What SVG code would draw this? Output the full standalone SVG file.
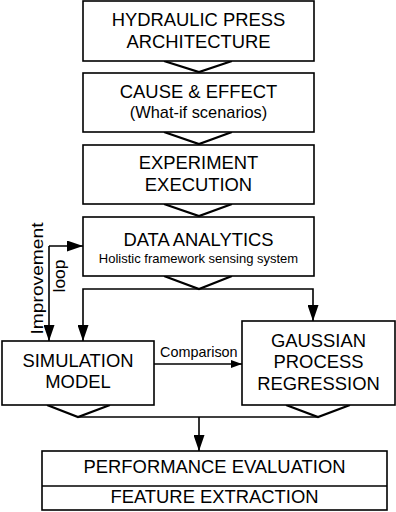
<svg xmlns="http://www.w3.org/2000/svg" width="396" height="512" viewBox="0 0 396 512">
<style>
.box{fill:#fff;stroke:#000;stroke-width:1.6}
.t{font-family:"Liberation Sans",Arial,sans-serif;font-size:18.4px;fill:#000;text-anchor:middle}
.s{font-size:16.4px}
.xs{font-size:13px}
.r{font-size:16px}
.c{font-family:"Liberation Sans",Arial,sans-serif;font-size:14.4px;fill:#000}
.ln{fill:none;stroke:#000;stroke-width:1.6}
.chev{fill:none;stroke:#000;stroke-width:2.2;stroke-linejoin:miter}
</style>
<defs>
<marker id="arr" markerUnits="userSpaceOnUse" markerWidth="16" markerHeight="11" refX="16" refY="5.5" orient="auto"><path d="M0,0 L16,5.5 L0,11 z" fill="#000"/></marker>
<marker id="arrs" markerUnits="userSpaceOnUse" markerWidth="11" markerHeight="8" refX="11" refY="4" orient="auto"><path d="M0,0 L11,4 L0,8 z" fill="#000"/></marker>
</defs>
<g id="connectors">
<polyline class="chev" points="164,61 199,72 232,61"/>
<polyline class="chev" points="164,132 199,144 232,132"/>
<polyline class="chev" points="164,204 199,216 232,204"/>
<polyline class="chev" points="164,276 199,289 232,276"/>
<polyline class="chev" points="47,405 78,417 110,405"/>
<polyline class="chev" points="286,405 318,417 350,405"/>
<path class="ln" d="M199,289 L83,289 L83,341" marker-end="url(#arr)"/>
<path class="ln" d="M199,289 L313,289 L313,321" marker-end="url(#arr)"/>
<path class="ln" d="M49,246 L49,341" marker-end="url(#arr)"/>
<path class="ln" d="M49,246 L83,246" marker-end="url(#arr)"/>
<path class="ln" d="M154,364 L242,364" marker-end="url(#arrs)"/>
<path class="ln" d="M78,417 L318,417"/>
<path class="ln" d="M199,417 L199,451" marker-end="url(#arr)"/>
<text class="c" x="160" y="357">Comparison</text>
<text class="t r" transform="translate(43,278.5) rotate(-90)" textLength="112" lengthAdjust="spacingAndGlyphs">Improvement</text>
<text class="t r" transform="translate(65,276) rotate(-90)" textLength="33" lengthAdjust="spacingAndGlyphs">loop</text>
</g>
<g id="hydraulic">
<rect class="box" x="83" y="1" width="231" height="60"/>
<text class="t" x="198.5" y="26">HYDRAULIC PRESS</text>
<text class="t" x="198.5" y="48">ARCHITECTURE</text>
</g>
<g id="cause">
<rect class="box" x="83" y="73" width="231" height="59"/>
<text class="t" x="198.5" y="98">CAUSE &amp; EFFECT</text>
<text class="t s" x="198.5" y="118">(What-if scenarios)</text>
</g>
<g id="experiment">
<rect class="box" x="83" y="145" width="231" height="59"/>
<text class="t" x="198.5" y="169">EXPERIMENT</text>
<text class="t" x="198.5" y="191">EXECUTION</text>
</g>
<g id="analytics">
<rect class="box" x="83" y="217" width="231" height="59"/>
<text class="t" x="198.5" y="246">DATA ANALYTICS</text>
<text class="t xs" x="198.5" y="263">Holistic framework sensing system</text>
</g>
<g id="simulation">
<rect class="box" x="2" y="341" width="152" height="64"/>
<text class="t" x="78" y="367">SIMULATION</text>
<text class="t" x="78" y="388">MODEL</text>
</g>
<g id="gpr">
<rect class="box" x="242" y="321" width="153" height="84"/>
<text class="t" x="318.5" y="347">GAUSSIAN</text>
<text class="t" x="318.5" y="368">PROCESS</text>
<text class="t" x="318.5" y="390">REGRESSION</text>
</g>
<g id="performance">
<rect class="box" x="42" y="451" width="345" height="59"/>
<line class="ln" x1="42" y1="486" x2="387" y2="486"/>
<text class="t" x="214.5" y="473">PERFORMANCE EVALUATION</text>
<text class="t" x="214.5" y="503">FEATURE EXTRACTION</text>
</g>
</svg>
